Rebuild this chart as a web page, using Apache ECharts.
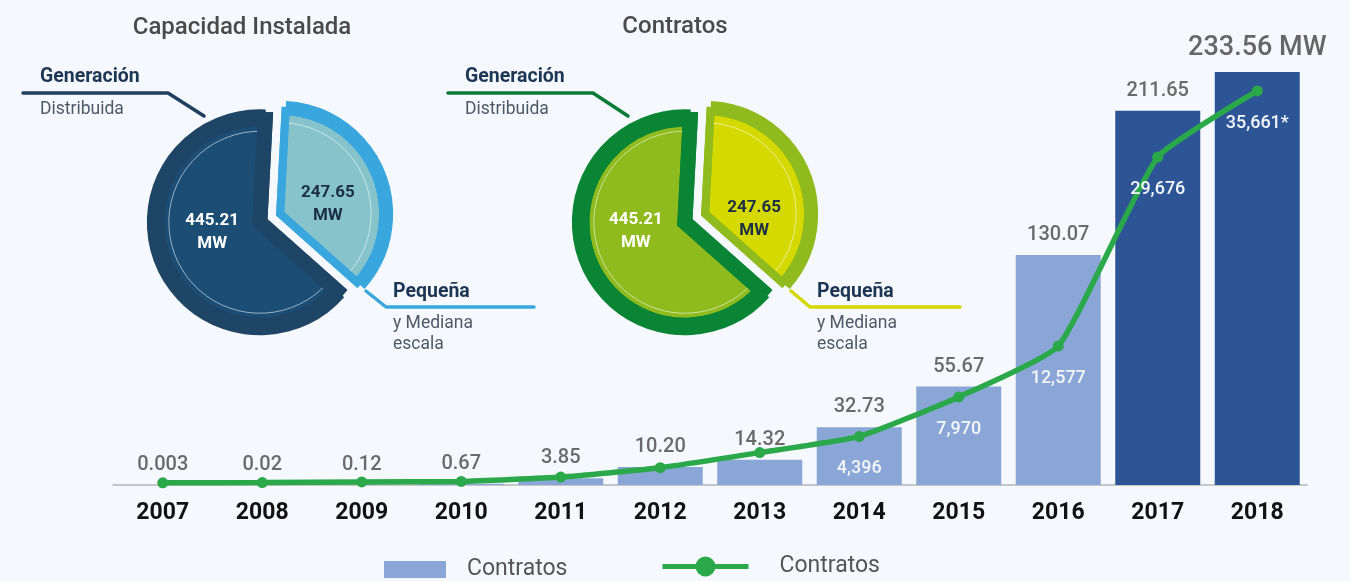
<!DOCTYPE html>
<html>
<head>
<meta charset="utf-8">
<script src="https://cdn.jsdelivr.net/npm/echarts@6/dist/echarts.min.js"></script>
<style>
html, body { margin: 0; padding: 0; background: #f5f9fd; }
#main { width: 1350px; height: 581px; }
</style>
</head>
<body>
<div id="main"></div>
<script>
var years = ['2007', '2008', '2009', '2010', '2011', '2012', '2013', '2014', '2015', '2016', '2017', '2018'];
var capacidad = [0.003, 0.02, 0.12, 0.67, 3.85, 10.20, 14.32, 32.73, 55.67, 130.07, 211.65, 233.56];
var capacidadLabels = ['0.003', '0.02', '0.12', '0.67', '3.85', '10.20', '14.32', '32.73', '55.67', '130.07', '211.65', '233.56 MW'];
var contratos = [200, 220, 280, 320, 720, 1570, 2930, 4396, 7970, 12577, 29676, 35661];
var contratosLabels = ['', '', '', '', '', '', '', '4,396', '7,970', '12,577', '29,676', '35,661*'];

// pies: [Pequeña y Mediana escala, Generación Distribuida]
var pieNames = ['Pequeña', 'Generación'];
var pieValues = [247.65, 445.21];
var pieLabels = ['247.65\nMW', '445.21\nMW'];

var FONT = 'Roboto, sans-serif';

function pieLayers(center, ring, fill, textColor, labelStart, labelCenter) {
    var border = [8, 15];
    function items(style) {
        return pieValues.map(function (v, i) {
            return { name: pieNames[i], value: v, selected: true, itemStyle: style(i) };
        });
    }
    function layer(extra) {
        var s = {
            type: 'pie', center: center, startAngle: 87, clockwise: true, silent: true,
            selectedMode: 'multiple', selectedOffset: 11, legendHoverLink: false,
            label: { show: false }, labelLine: { show: false },
            emphasis: { disabled: true }
        };
        for (var k in extra) s[k] = extra[k];
        return s;
    }
    return [
        // anillo exterior
        layer({ radius: [0, 113], data: items(function (i) {
            return { color: ring[i] };
        }) }),
        // relleno con borde
        layer({ radius: [0, 103], data: items(function (i) {
            return { color: fill[i], borderColor: ring[i], borderWidth: border[i], borderJoin: 'miter' };
        }) }),
        // linea fina interior (solo el arco queda visible)
        layer({ radius: [0, 91], data: items(function () {
            return { color: 'rgba(0,0,0,0)', borderColor: 'rgba(255,255,255,0.55)', borderWidth: 1 };
        }) }),
        layer({ radius: [0, 103], data: items(function (i) {
            return { color: 'rgba(0,0,0,0)', borderColor: ring[i], borderWidth: border[i], borderJoin: 'miter' };
        }) }),
        // etiquetas
        layer({
            radius: [0, 113], center: labelCenter, startAngle: labelStart, selectedMode: false,
            data: pieValues.map(function (v, i) {
                return { name: pieNames[i], value: v, itemStyle: { color: 'rgba(0,0,0,0)' }, label: { color: textColor[i] } };
            }),
            label: {
                show: true, position: 'inside', fontFamily: FONT, fontWeight: 'bold', fontSize: 17, lineHeight: 23,
                formatter: function (p) { return pieLabels[p.dataIndex]; }
            }
        })
    ];
}

function txt(x, y, text, font, color, align) {
    return {
        type: 'text', x: x, y: y, silent: true,
        style: { text: text, font: font, fill: color, textAlign: align || 'left', textVerticalAlign: 'middle', align: align || 'left', verticalAlign: 'middle' }
    };
}
function leader(points, color) {
    return { type: 'polyline', silent: true, shape: { points: points }, style: { stroke: color, lineWidth: 3.5, fill: null, lineCap: 'round', lineJoin: 'round' } };
}

var graphics = [
    txt(242, 28, 'Capacidad Instalada', '500 24px ' + FONT, '#4a4a4a', 'center'),
    txt(675, 27, 'Contratos', '500 24px ' + FONT, '#4a4a4a', 'center'),

    leader([[23, 93], [168, 93], [204, 116]], '#1e3f5e'),
    txt(40, 77, 'Generación', 'bold 19.5px ' + FONT, '#1c3654'),
    txt(40, 110, 'Distribuida', '17.5px ' + FONT, '#4d5a66'),
    leader([[366, 291], [386, 307], [534, 307]], '#3aa6dc'),
    txt(393, 292, 'Pequeña', 'bold 19.5px ' + FONT, '#1c3654'),
    txt(393, 324, 'y Mediana', '17.5px ' + FONT, '#4d5a66'),
    txt(393, 345, 'escala', '17.5px ' + FONT, '#4d5a66'),

    leader([[448, 93], [593, 93], [628, 116]], '#0b7a35'),
    txt(465, 77, 'Generación', 'bold 19.5px ' + FONT, '#1c3654'),
    txt(465, 110, 'Distribuida', '17.5px ' + FONT, '#4d5a66'),
    leader([[791, 291], [810, 307], [960, 307]], '#d4d800'),
    txt(817, 292, 'Pequeña', 'bold 19.5px ' + FONT, '#1c3654'),
    txt(817, 324, 'y Mediana', '17.5px ' + FONT, '#4d5a66'),
    txt(817, 345, 'escala', '17.5px ' + FONT, '#4d5a66')
];

var series = [
    {
        name: 'Capacidad', type: 'bar', data: capacidad, barWidth: 85,
        itemStyle: { color: function (p) { return p.dataIndex >= 10 ? '#2d5595' : '#89a6d6'; } },
        label: {
            show: true, position: 'top', distance: 10, color: '#6a6a6a',
            fontFamily: FONT, fontSize: 20, fontWeight: 500,
            formatter: function (p) {
                var t = capacidadLabels[p.dataIndex];
                return p.dataIndex === capacidad.length - 1 ? '{big|' + t + '}' : t;
            },
            rich: { big: { fontFamily: FONT, fontSize: 27, fontWeight: 500, color: '#666' } }
        }
    },
    {
        name: 'Contratos', type: 'line', yAxisIndex: 1, data: contratos,
        smooth: 0.15,
        symbol: 'circle', symbolSize: 11, z: 5,
        lineStyle: { width: 5.5, color: '#2ba84a' },
        itemStyle: { color: '#2ba84a' },
        label: {
            show: true, position: 'bottom', distance: 18, color: '#f2f6fb',
            fontFamily: FONT, fontSize: 18, fontWeight: 500,
            formatter: function (p) { return contratosLabels[p.dataIndex]; }
        }
    }
];

series = series.concat(
    pieLayers([270, 218], ['#39a6de', '#1f4566'], ['#87c3ca', '#1c4e75'], ['#1d2f46', '#ffffff'], 78, [270, 218]),
    pieLayers([695, 218], ['#8fbb1e', '#0a8535'], ['#d5d900', '#8fbb1e'], ['#1d2f46', '#ffffff'], 70, [695, 225])
);

var option = {
    animation: false,
    backgroundColor: '#f5f9fd',
    grid: { left: 113, right: 43, top: 43, bottom: 96 },
    legend: [
        {
            data: ['Capacidad'], left: 384, top: 558, padding: 0, icon: 'rect',
            itemWidth: 62, itemHeight: 17, selectedMode: false,
            itemStyle: { color: '#89a6d6' },
            formatter: function () { return 'Contratos'; },
            textStyle: { fontFamily: FONT, fontSize: 23, color: '#555', padding: [0, 0, 0, 16] }
        },
        {
            data: ['Contratos'], left: 660, top: 555, padding: 0,
            itemWidth: 86, itemHeight: 25, selectedMode: false,
            lineStyle: { width: 5 },
            textStyle: { fontFamily: FONT, fontSize: 23, color: '#555', padding: [0, 0, 0, 26] }
        }
    ],
    xAxis: {
        type: 'category', data: years,
        axisTick: { show: false },
        axisLine: { lineStyle: { color: '#b5b5b5', width: 1.5 } },
        axisLabel: { fontFamily: FONT, fontWeight: 'bold', fontSize: 23, color: '#111', margin: 17 }
    },
    yAxis: [
        { type: 'value', min: 0, max: 250, show: false },
        { type: 'value', min: 0, max: 40000, show: false }
    ],
    graphic: graphics,
    series: series
};

var myChart = echarts.init(document.getElementById('main'));
myChart.setOption(option);
</script>
</body>
</html>
